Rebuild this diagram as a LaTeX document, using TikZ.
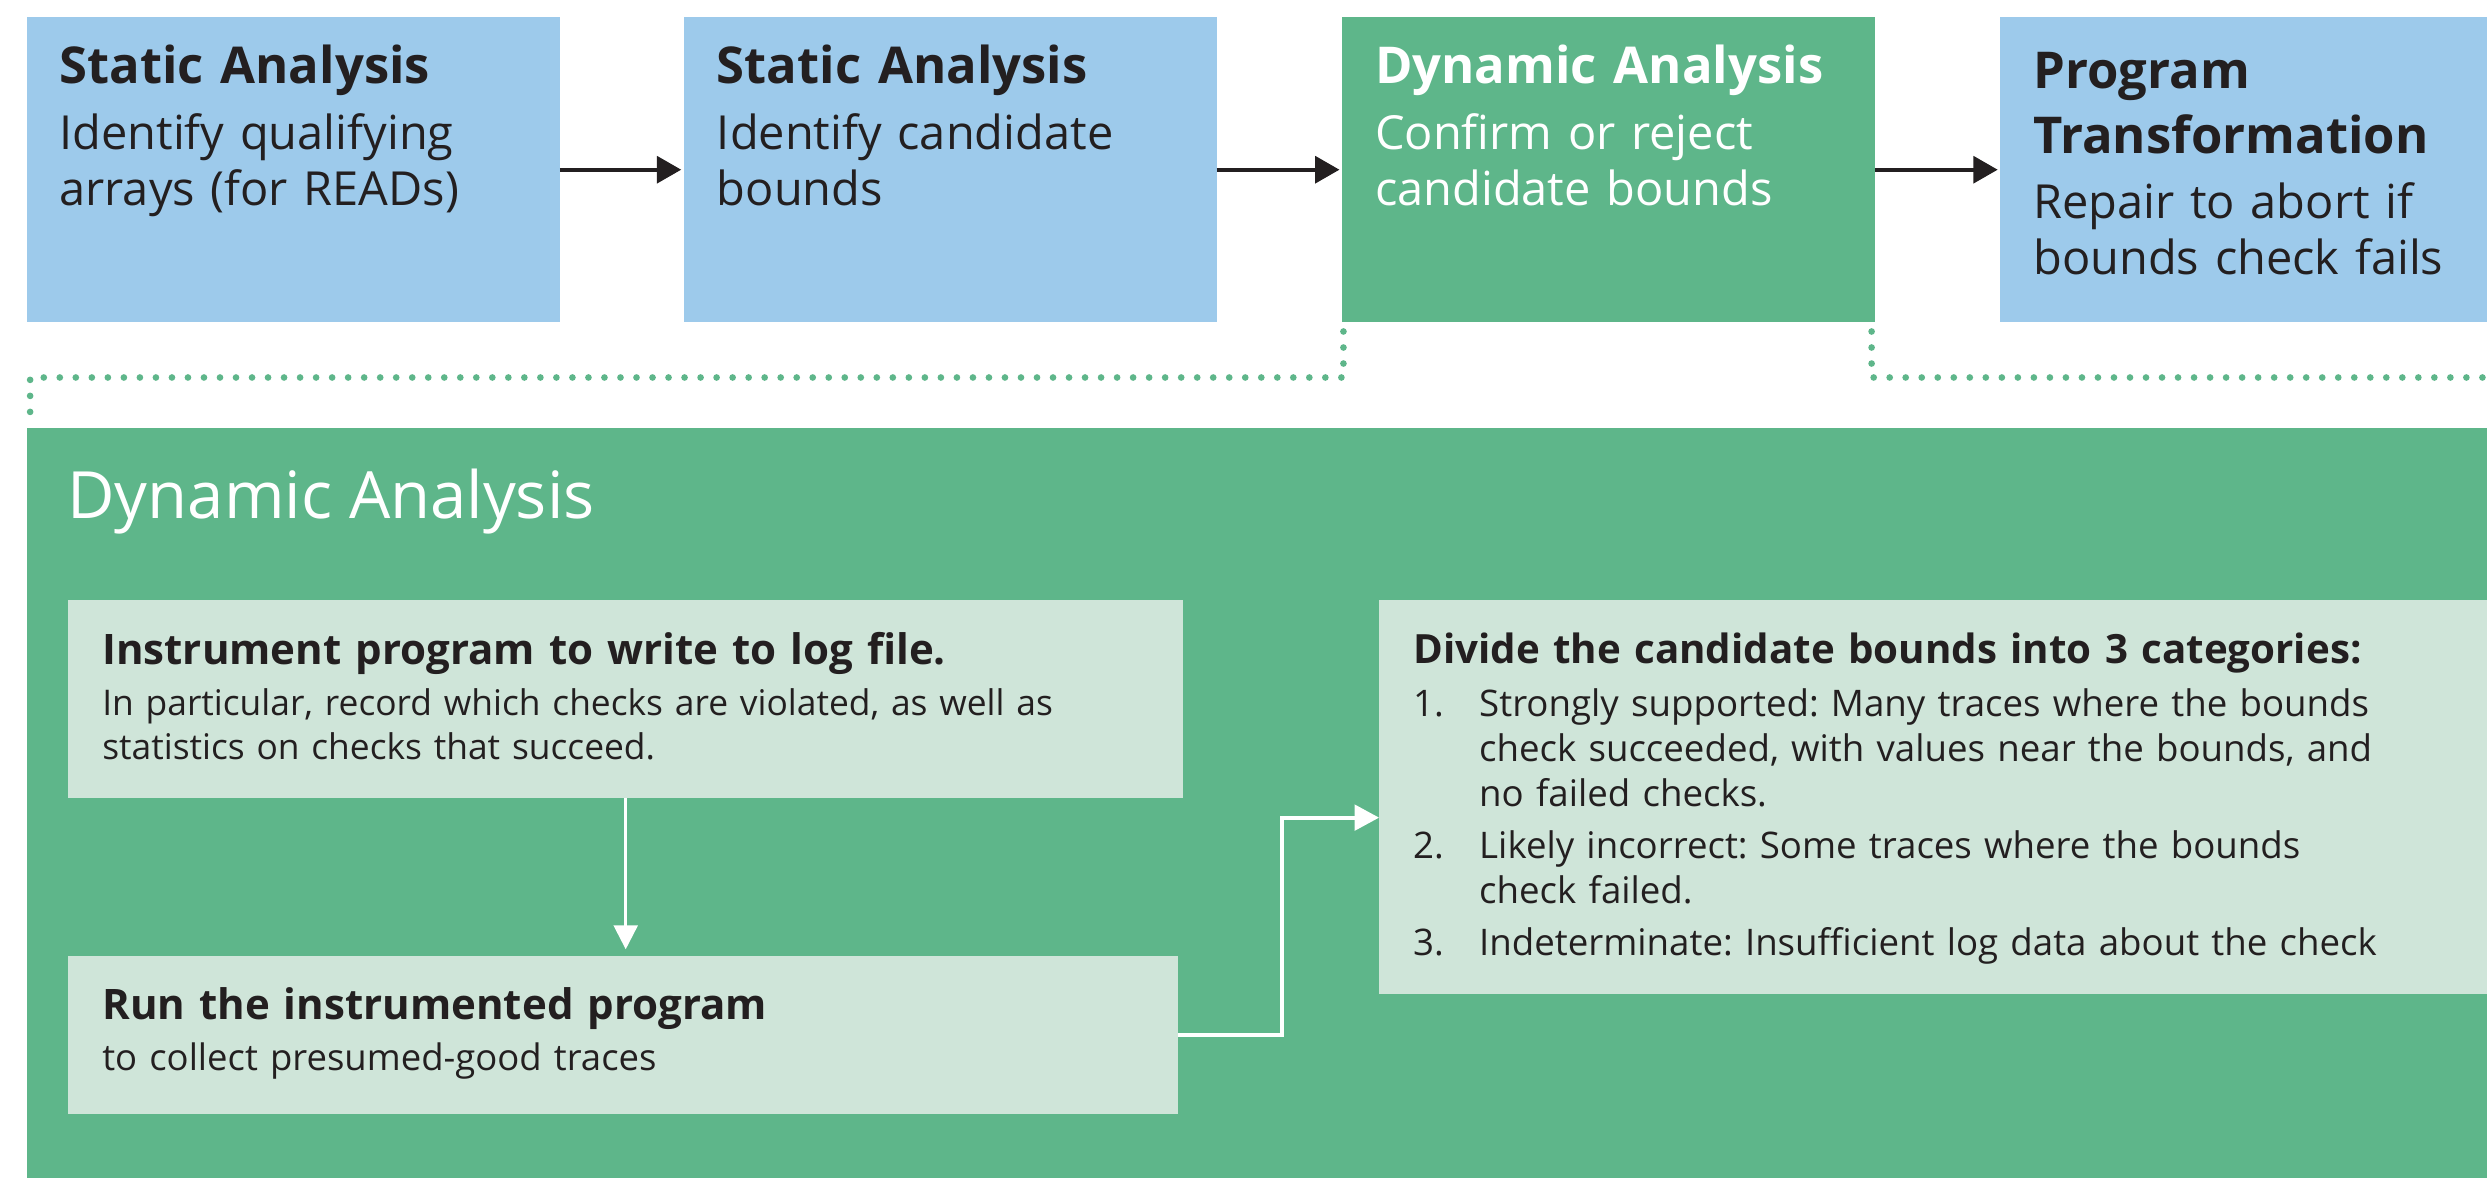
\documentclass[tikz,border=0pt]{standalone}
\usepackage{fontspec}
\setmainfont{Open Sans}
\usetikzlibrary{arrows.meta,calc}
\definecolor{sblue}{HTML}{9DCAEB}
\definecolor{dgreen}{HTML}{5EB68A}
\definecolor{lgreen}{HTML}{CFE5D9}
\definecolor{ink}{HTML}{231F20}
\frenchspacing
\begin{document}
\begin{tikzpicture}[x=1pt,y=-1pt,
  box/.style={draw=none,inner sep=0pt,outer sep=0pt,anchor=north west,rectangle},
  txt/.style={anchor=base west,inner sep=0pt,outer sep=0pt,align=left,text=ink},
  toptitle/.style={txt,font=\fontsize{32}{40.5}\selectfont\bfseries,text width=320pt},
  topbody/.style={txt,font=\fontsize{29.6}{35.5}\selectfont,text width=320pt},
  bigtitle/.style={txt,font=\fontsize{41.1}{48}\selectfont,text=white},
  intitle/.style={txt,font=\fontsize{26.5}{32}\selectfont\bfseries,text width=660pt},
  inbody/.style={txt,font=\fontsize{22.3}{27.9}\selectfont,text width=640pt},
  cbody/.style={txt,font=\fontsize{23.1}{28.4}\selectfont,text width=600pt},
  blackarrow/.style={draw=ink,line width=2.5pt,-{Triangle[length=15.3pt,width=16.8pt]},shorten >=1.5pt},
  whitearrow/.style={draw=white,-{Triangle[length=15pt,width=15pt]}},
  dotline/.style={draw=dgreen,line width=4.2pt,line cap=round,dash pattern=on 0pt off 10.1pt}
]
\useasboundingbox (0,0) rectangle (1568,743);
\fill[white] (0,0) rectangle (1568,743);

% top row
\node[box,fill=sblue,minimum width=336pt,minimum height=192pt] (s1) at (17,11) {};
\node[box,fill=sblue,minimum width=336pt,minimum height=192pt] (s2) at (431,11) {};
\node[box,fill=dgreen,minimum width=336pt,minimum height=192pt] (d) at (846,11) {};
\node[box,fill=sblue,minimum width=307pt,minimum height=192pt] (p) at (1261,11) {};

\node[toptitle] (s1t) at (37.5,52.5) {Static Analysis};
\node[topbody] (s1b) at (37.5,94) {Identify qualifying\\arrays (for READs)};
\node[toptitle] (s2t) at (452,52.5) {Static Analysis};
\node[topbody] (s2b) at (452,94) {Identify candidate\\bounds};
\node[toptitle,text=white] (dt) at (867,52.5) {Dynamic Analysis};
\node[topbody,text=white] (db) at (867,94) {Confirm or reject\\candidate bounds};
\node[toptitle] (pt) at (1282,56) {Program\\Transformation};
\node[topbody] (pb) at (1282,137.5) {Repair to abort if\\bounds check fails};

\draw[blackarrow] (s1) -- (s2);
\draw[blackarrow] (s2) -- (d);
\draw[blackarrow] (d) -- (p);

% dotted connectors
\coordinate (jl) at (19,238);
\coordinate (jr) at (1568,238);
\draw[dotline] ($(d.south west)+(1,6)$) |- (jl) -- (19,266);
\draw[dotline] ($(d.south east)+(-2,6)$) |- (jr);

% big panel
\node[box,fill=dgreen,minimum width=1551pt,minimum height=473pt] (big) at (17,270) {};
\node[bigtitle] (bt) at (42.5,327) {Dynamic Analysis};

\node[box,fill=lgreen,minimum width=703pt,minimum height=125pt] (A) at (43,378) {};
\node[box,fill=lgreen,minimum width=700pt,minimum height=99.5pt] (B) at (43,603) {};
\node[box,fill=lgreen,minimum width=698.5pt,minimum height=249pt] (C) at (869.5,378) {};

\node[intitle] (At) at (64.5,419) {Instrument program to write to log file.};
\node[inbody] (Ab) at (64.5,451) {In particular, record which checks are violated, as well as\\statistics on checks that succeed.};
\node[intitle] (Bt) at (64.5,642.7) {Run the instrumented program};
\node[inbody,font=\fontsize{23}{27.9}\selectfont] (Bb) at (64.5,675) {to collect presumed-good traces};

\node[intitle,font=\fontsize{25.4}{32}\selectfont\bfseries] (Ct) at (891,418.2) {Divide the candidate bounds into 3 categories:};
\node[cbody,text width=40pt] (n1) at (891,451.9) {1.};
\node[cbody] (i1) at (932.6,451.9) {Strongly supported: Many traces where the bounds\\check succeeded, with values near the bounds, and\\no failed checks.};
\node[cbody,text width=40pt] (n2) at (891,541.2) {2.};
\node[cbody] (i2) at (932.6,541.2) {Likely incorrect: Some traces where the bounds\\check failed.};
\node[cbody,text width=40pt] (n3) at (891,602.2) {3.};
\node[cbody] (i3) at (932.6,602.2) {Indeterminate: Insufficient log data about the check};

% white connectors
\draw[whitearrow,line width=1.6pt,shorten >=4.5pt] (A.south) -- (A.south |- B.north);
\coordinate (bend) at (808.5,515.5);
\draw[whitearrow,line width=2.6pt,-{Triangle[length=15.5pt,width=16pt]}] (B.east) -| (bend) -- (bend -| C.west);
\end{tikzpicture}
\end{document}
